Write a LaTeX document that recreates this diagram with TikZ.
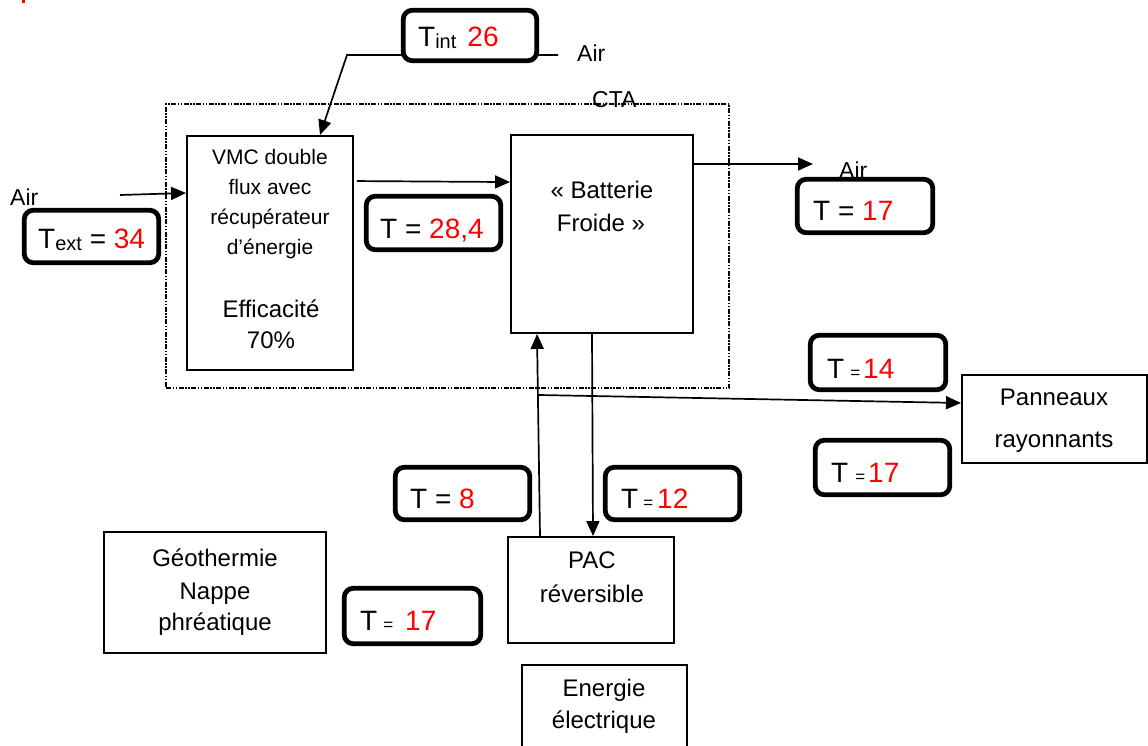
\documentclass[tikz,border=0pt]{standalone}
\usepackage{fontspec}
\setmainfont{Liberation Sans}
\usetikzlibrary{arrows.meta,calc}
\definecolor{tred}{RGB}{255,0,0}
\newcommand\mytf{\fontsize{28}{28}\selectfont}
\newcommand\smalleq{{\fontsize{17}{17}\selectfont=}}
\begin{document}
\begin{tikzpicture}[x=1pt,y=-1pt,
  box/.style={draw,line width=1.9pt,fill=white,inner sep=0pt},
  tbox/.style={draw,line width=4.8pt,rounded corners=9pt,fill=white,inner sep=0pt},
  lab/.style={inner sep=0pt,anchor=base west,font=\mytf},
  ctext/.style={inner sep=0pt,anchor=base,font=\fontsize{24}{24}\selectfont},
  vtext/.style={inner sep=0pt,anchor=base,font=\fontsize{21}{21}\selectfont},
  airtext/.style={inner sep=0pt,anchor=base west,font=\fontsize{23}{23}\selectfont},
  conn/.style={line width=1.7pt},
  arr/.style={conn,-{Triangle[length=15pt,width=13pt]}},
  ctaline/.style={draw,line width=1.5pt,dash pattern=on 5pt off 1.5pt on 1.5pt off 1.5pt on 1.5pt off 1.5pt,inner sep=0pt}
]
\useasboundingbox (0,0) rectangle (1148,746);
\clip (0,0) rectangle (1148,746);
\fill[tred] (22,0) rectangle (24.5,3);

% CTA enclosure
\node[airtext] (ctalab) at (592,108) {CTA};
\node[ctaline,minimum width=563pt,minimum height=284pt] (cta) at (447.5,246) {};

% main boxes
\node[box,minimum width=166pt,minimum height=234pt] (vmc) at (270,253) {};
\node[vtext] (vmc1) at (270,165) {VMC double};
\node[vtext] (vmc2) at (270,195) {flux avec};
\node[vtext] (vmc3) at (270,225) {récupérateur};
\node[vtext] (vmc4) at (270,254) {d’énergie};
\node[ctext] (vmc5) at (271,317) {Efficacité};
\node[ctext] (vmc6) at (271,348) {70\%};

\node[box,minimum width=182pt,minimum height=198pt] (bat) at (602,234) {};
\node[ctext] (bat1) at (602,199) {« Batterie};
\node[ctext] (bat2) at (601,231) {Froide »};

\node[box,minimum width=185pt,minimum height=88pt] (pan) at (1054.5,419) {};
\node[ctext] (pan1) at (1054,405) {Panneaux};
\node[ctext] (pan2) at (1054,447) {rayonnants};

\node[box,minimum width=222pt,minimum height=121pt] (geo) at (215,592.5) {};
\node[ctext] (geo1) at (215,566) {Géothermie};
\node[ctext] (geo2) at (215,599) {Nappe};
\node[ctext] (geo3) at (215,630) {phréatique};

\node[box,minimum width=166pt,minimum height=106pt] (pac) at (591,590) {};
\node[ctext] (pac1) at (592,568) {PAC};
\node[ctext] (pac2) at (592,602) {réversible};

\node[box,minimum width=165pt,minimum height=86pt] (ene) at (604.5,708) {};
\node[ctext] (ene1) at (604,696) {Energie};
\node[ctext] (ene2) at (604,728) {électrique};

% connectors
\coordinate (tintR) at (558,55);
\coordinate (tintL) at (347,55);
\draw[arr] (tintR) -- (tintL) -- ([xshift=50pt]vmc.north);
\node[airtext] (airtop) at (577,62) {Air};

\coordinate (airin) at (120,195);
\draw[arr] (airin) -- ([yshift=60pt]vmc.west);
\node[airtext] (airleft) at (10,205) {Air};

\draw[arr] ([xshift=3pt,yshift=-46pt]vmc.north east) -- ([yshift=-48pt]bat.north west);

\coordinate (airout) at (813,164);
\draw[arr] ([yshift=-30pt]bat.north east) -- (airout);
\node[airtext] (airright) at (839,178.5) {Air};

\draw[arr] ([xshift=-10pt]bat.south) -- ([xshift=2pt]pac.north);
\draw[arr] ([xshift=-51pt]pac.north) -- ([xshift=-65pt]bat.south);

\coordinate (junc) at (539,395);
\draw[arr] (junc) -- ([yshift=16pt]pan.west);

% temperature boxes
\node[tbox,minimum width=133.5pt,minimum height=50.5pt] (tint) at (470,35.5) {};
\node[lab] (tintl) at (418,47) {T\raisebox{-2pt}{\fontsize{20}{20}\selectfont int}\hspace{11pt}\textcolor{tred}{26}};

\node[tbox,minimum width=134.5pt,minimum height=52.5pt] (text) at (91.5,236.5) {};
\node[lab] (textl) at (38,248) {T\raisebox{-2pt}{\fontsize{20}{20}\selectfont ext} = \textcolor{tred}{34}};

\node[tbox,minimum width=134.5pt,minimum height=53.5pt] (t284) at (433.5,223) {};
\node[lab] (t284l) at (380,238) {T = \textcolor{tred}{28,4}};

\node[tbox,minimum width=135.5pt,minimum height=53.5pt] (t17a) at (865,206) {};
\node[lab] (t17al) at (813,221) {T = \textcolor{tred}{17}};

\node[tbox,minimum width=135.5pt,minimum height=54.5pt] (t14) at (878,362.5) {};
\node[lab] (t14l) at (827,378) {T\hspace{6pt}\smalleq\hspace{3pt}\textcolor{tred}{14}};

\node[tbox,minimum width=134.5pt,minimum height=54.5pt] (t17b) at (882.5,467.5) {};
\node[lab] (t17bl) at (831,482) {T\hspace{7pt}\smalleq\hspace{3pt}\textcolor{tred}{17}};

\node[tbox,minimum width=134.5pt,minimum height=52.5pt] (t8) at (462.5,493.5) {};
\node[lab] (t8l) at (410,508) {T = \textcolor{tred}{8}};

\node[tbox,minimum width=134.5pt,minimum height=52.5pt] (t12) at (672.5,493.5) {};
\node[lab] (t12l) at (621,508) {T\hspace{5pt}\smalleq\hspace{4pt}\textcolor{tred}{12}};

\node[tbox,minimum width=136.5pt,minimum height=55.5pt] (t17c) at (412.5,616) {};
\node[lab] (t17cl) at (360,630) {T\hspace{6pt}\smalleq\hspace{12pt}\textcolor{tred}{17}};
\end{tikzpicture}
\end{document}
